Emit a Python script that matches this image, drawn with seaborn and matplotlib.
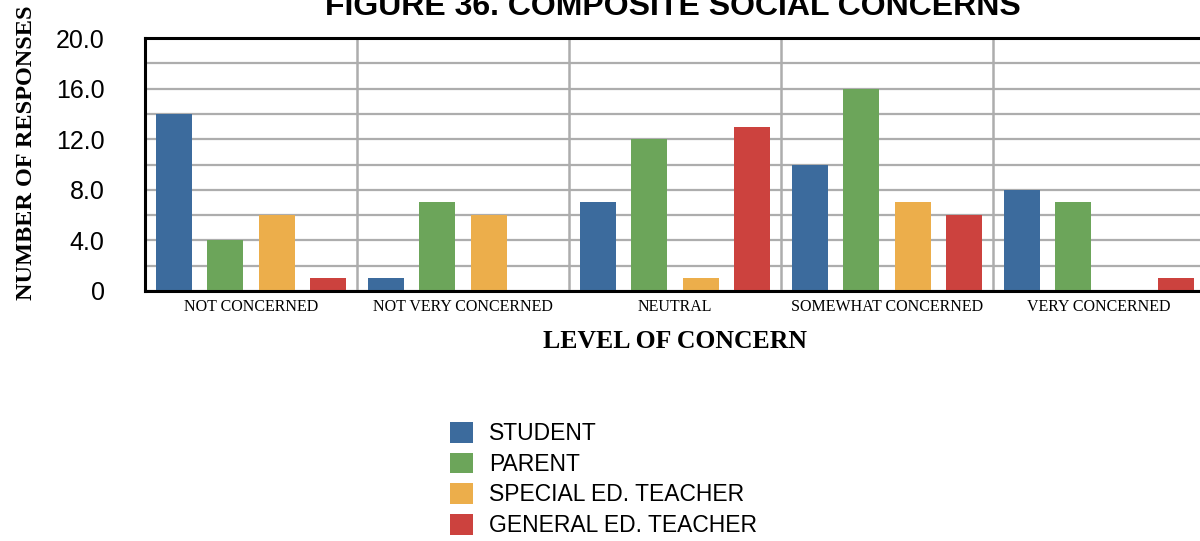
import numpy as np
import pandas as pd
import matplotlib
matplotlib.use("Agg")
import matplotlib.pyplot as plt
from matplotlib.ticker import MultipleLocator, FuncFormatter, FixedLocator
import seaborn as sns

# Survey data
levels = ["NOT CONCERNED", "NOT VERY CONCERNED", "NEUTRAL",
          "SOMEWHAT CONCERNED", "VERY CONCERNED"]
groups = ["STUDENT", "PARENT", "SPECIAL ED. TEACHER", "GENERAL ED. TEACHER"]
student = [14, 1, 7, 10, 8]
parent = [4, 7, 12, 16, 7]
special_ed = [6, 6, 1, 7, 0]
general_ed = [1, 0, 13, 6, 1]
colors = ["#3C6B9D", "#6CA55A", "#ECAE4B", "#CC423E"]

series = [student, parent, special_ed, general_ed]
df = pd.DataFrame({
    "level": np.repeat([levels], len(groups), axis=0).ravel(),
    "group": np.repeat(groups, len(levels)),
    "count": np.concatenate(series),
})

sns.set_theme(style="white")
serif = ["Liberation Serif", "DejaVu Serif"]
sans = ["Liberation Sans", "DejaVu Sans"]

fig = plt.figure(figsize=(12, 5.41), dpi=100)
W, H = 1200, 541
ax_left, ax_right, ax_top, ax_bottom = 145, 1205, 38, 291
ax = fig.add_axes([ax_left / W, (H - ax_bottom) / H,
                   (ax_right - ax_left) / W, (ax_bottom - ax_top) / H])

sns.barplot(data=df, x="level", y="count", hue="group", order=levels,
            hue_order=groups, palette=colors, width=0.966, gap=0.3,
            saturation=1, linewidth=0, edgecolor="none", ax=ax, legend=True)

ax.set_xlim(-0.5, 4.5)
ax.set_ylim(0, 20)
ax.set_axisbelow(True)

# y grid every 2, labels every 4
ax.yaxis.set_major_locator(MultipleLocator(4))
ax.yaxis.set_minor_locator(MultipleLocator(2))
ax.yaxis.set_major_formatter(FuncFormatter(lambda v, p: "0" if v == 0 else f"{v:.1f}"))
ax.xaxis.set_minor_locator(FixedLocator([0.5, 1.5, 2.5, 3.5]))
ax.grid(True, which="both", axis="y", color="#ADADAD", lw=1.6)
ax.grid(True, which="minor", axis="x", color="#ADADAD", lw=1.8)
ax.grid(False, which="major", axis="x")

ax.tick_params(axis="y", which="both", length=0, pad=29, labelsize=18,
               labelcolor="black")
ax.tick_params(axis="x", which="both", length=0, pad=6, labelcolor="black")
for lab in ax.get_yticklabels():
    lab.set_fontfamily(sans)
for lab in ax.get_xticklabels():
    lab.set_fontfamily(serif)
    lab.set_fontsize(11.5)

for side in ["left", "bottom", "top"]:
    ax.spines[side].set_color("black")
    ax.spines[side].set_linewidth(2.2)
ax.spines["right"].set_visible(False)

ax.set_xlabel("LEVEL OF CONCERN", fontfamily=serif, fontweight="bold",
              fontsize=18.5, color="black")
ax.xaxis.set_label_coords(0.5, (ax_bottom - 330) / (ax_bottom - ax_top))
ax.set_ylabel("NUMBER OF RESPONSES", fontfamily=serif, fontweight="bold",
              fontsize=17.5, color="black")
ax.yaxis.label.set_va("center")
ax.yaxis.set_label_coords((27 - ax_left) / (ax_right - ax_left),
                          (ax_bottom - 153) / (ax_bottom - ax_top))

fig.text(673 / W, (H - 15) / H, "FIGURE 36. COMPOSITE SOCIAL CONCERNS",
         ha="center", va="baseline", fontfamily=sans, fontweight="bold",
         fontsize=23, color="black")

handles, labels = ax.get_legend_handles_labels()
ax.get_legend().remove()
leg = fig.legend(handles, labels, loc="upper left",
                 bbox_to_anchor=(450 / W, (H - 422) / H), frameon=False,
                 borderpad=0, borderaxespad=0, handlelength=1.0, handleheight=1.0,
                 handletextpad=0.7, labelspacing=0.33,
                 prop={"family": sans, "size": 16.5})
for t in leg.get_texts():
    t.set_color("black")

fig.savefig("out.png", dpi=100, facecolor="white")
